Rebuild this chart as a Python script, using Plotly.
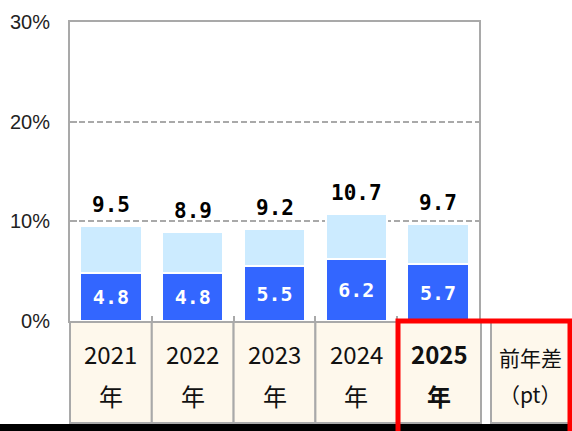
import plotly.graph_objects as go

# ---- data ----
categories = ["2021", "2022", "2023", "2024", "2025"]
year_suffix = "年"
dark_values = [4.8, 4.8, 5.5, 6.2, 5.7]
total_values = [9.5, 8.9, 9.2, 10.7, 9.7]
light_values = [round(t - d, 1) for t, d in zip(total_values, dark_values)]
y_tick_vals = [0, 10, 20, 30]
y_tick_text = ["0%", "10%", "20%", "30%"]
extra_header = ["前年差", "（pt）"]

# ---- geometry helpers (pixel -> paper) ----
W, H = 572, 431
L, R, T, B = 70, 93, 22, 110
PW, PH = W - L - R, H - T - B
def px(xp):
    return (xp - L) / PW
def py(yp):
    return (H - B - yp) / PH

DARK = "#3366FF"
LIGHT = "#CCEBFF"
GRAY = "#A9A9A9"
CREAM = "#FEF8EC"
FONT_JP = "Noto Sans CJK JP"
FONT_NUM = "DejaVu Sans Mono"

xs = list(range(len(categories)))

fig = go.Figure()
fig.add_trace(go.Bar(
    x=xs, y=dark_values, marker=dict(color=DARK, line=dict(color="white", width=1.5)),
    text=dark_values, texttemplate="<b>%{text:.1f}</b>", textposition="inside",
    insidetextanchor="middle",
    textfont=dict(color="white", size=20, family=FONT_NUM),
    hoverinfo="skip",
))
fig.add_trace(go.Bar(
    x=xs, y=light_values, marker=dict(color=LIGHT, line=dict(color="white", width=1.5)),
    hoverinfo="skip",
))

annotations = []
for i, t in enumerate(total_values):
    annotations.append(dict(
        x=i, y=t, xref="x", yref="y", text=f"<b>{t:.1f}</b>", showarrow=False,
        yanchor="middle", yshift=21,
        font=dict(size=21, color="black", family=FONT_NUM),
    ))

shapes = []
cell_top, cell_bot = 322, 423
step = PW / len(categories)
# category cells
for i, c in enumerate(categories):
    x0 = L + step * i
    x1 = L + step * (i + 1)
    if i == len(categories) - 1:
        x0, x1 = 397, 481
    shapes.append(dict(type="rect", xref="paper", yref="paper",
                       x0=px(x0), x1=px(x1), y0=py(cell_bot), y1=py(cell_top),
                       fillcolor=CREAM, line=dict(color=GRAY, width=2), layer="below"))
    cx = (x0 + x1) / 2
    bold = i == len(categories) - 1
    for txt, yy in ((c, 353), (year_suffix, 395)):
        annotations.append(dict(
            x=px(cx), y=py(yy), xref="paper", yref="paper",
            text=f"<b>{txt}</b>" if bold else txt, showarrow=False,
            xanchor="center", yanchor="middle",
            font=dict(size=24, color="#111111", family=FONT_JP),
        ))
# extra column cell
shapes.append(dict(type="rect", xref="paper", yref="paper",
                   x0=px(491), x1=px(569), y0=py(cell_bot), y1=py(cell_top),
                   fillcolor=CREAM, line=dict(color=GRAY, width=2), layer="below"))
for txt, yy in zip(extra_header, (357, 394)):
    annotations.append(dict(
        x=px(530), y=py(yy), xref="paper", yref="paper", text=txt, showarrow=False,
        xanchor="center", yanchor="middle",
        font=dict(size=21, color="#111111", family=FONT_JP),
    ))
# bottom black band
shapes.append(dict(type="rect", xref="paper", yref="paper",
                   x0=px(-5), x1=px(W + 5), y0=py(H + 5), y1=py(424),
                   fillcolor="black", line=dict(width=0)))
# red highlight box
shapes.append(dict(type="rect", xref="paper", yref="paper",
                   x0=px(398), x1=px(570), y0=py(H + 10), y1=py(321),
                   fillcolor="rgba(0,0,0,0)", line=dict(color="#FF0000", width=5)))

fig.update_layout(
    width=W, height=H,
    margin=dict(l=L, r=R, t=T, b=B, autoexpand=False),
    barmode="stack", bargap=0.255,
    plot_bgcolor="white", paper_bgcolor="white",
    showlegend=False,
    annotations=annotations, shapes=shapes,
    font=dict(family=FONT_JP),
)
fig.update_xaxes(
    range=[-0.5, 4.5], showticklabels=False, showgrid=False, zeroline=False,
    tickvals=[0.5, 1.5, 2.5, 3.5], ticks="inside", ticklen=5, tickwidth=2, tickcolor=GRAY,
    showline=True, mirror=True, linecolor=GRAY, linewidth=2,
)
fig.update_yaxes(
    range=[0, 30], tickvals=y_tick_vals, ticktext=y_tick_text,
    ticks="inside", ticklen=7, tickwidth=2, tickcolor=GRAY,
    showgrid=True, gridcolor=GRAY, gridwidth=2, griddash="6px,3px",
    zeroline=False, showline=True, mirror=True, linecolor=GRAY, linewidth=2,
    tickfont=dict(family="Liberation Sans", size=20, color="#222222"),
    ticklabelstandoff=14,
)

fig.write_html(
    "out.html",
    config={"displayModeBar": False, "staticPlot": True},
    post_script="document.body.style.margin='0px';document.body.style.overflow='hidden';",
)
